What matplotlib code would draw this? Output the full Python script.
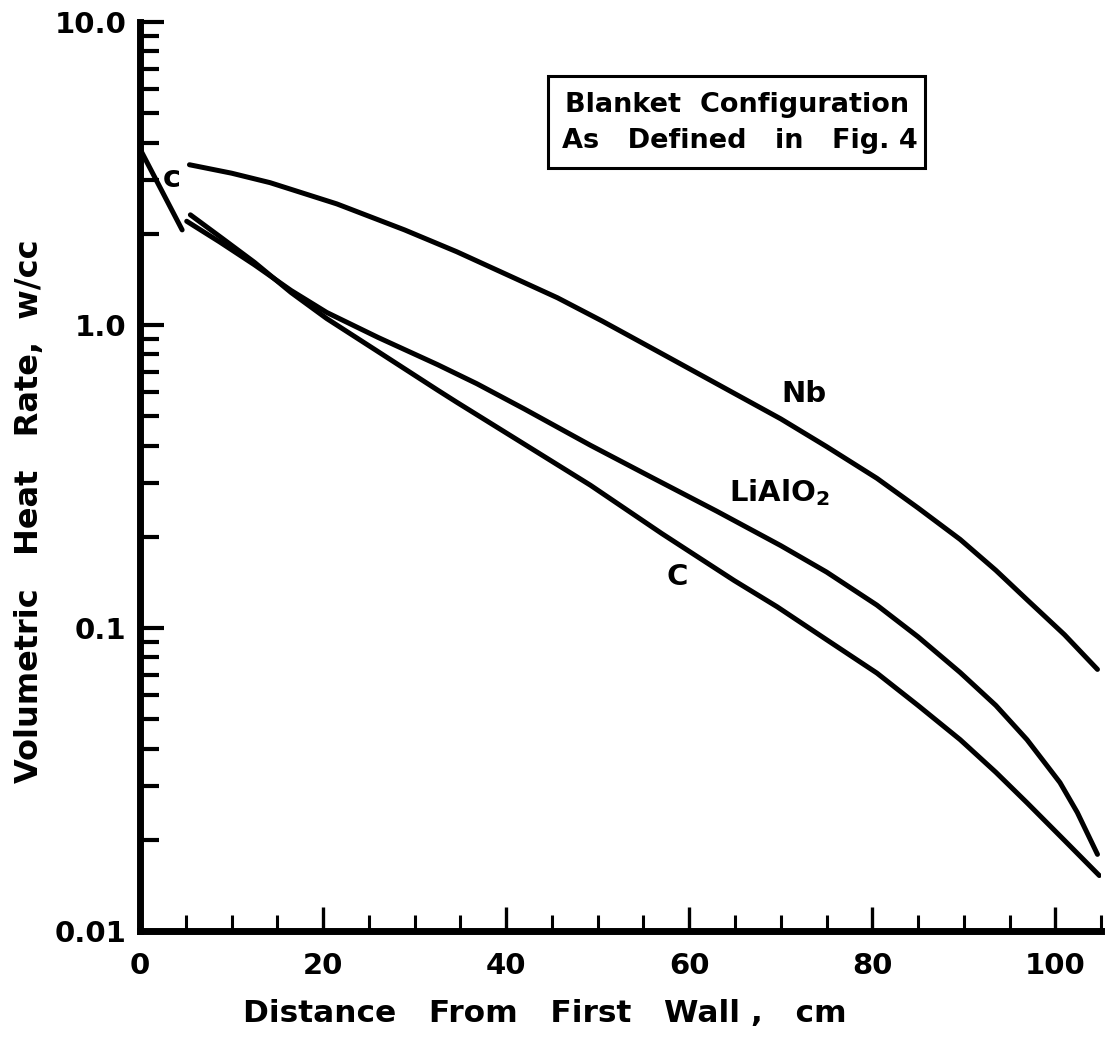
import matplotlib
matplotlib.use("Agg")
import matplotlib.pyplot as plt
from matplotlib.ticker import FixedLocator, MultipleLocator, LogLocator, NullFormatter
from matplotlib.patches import Rectangle

plt.rcParams['font.family'] = ['DejaVu Sans']
plt.rcParams['font.weight'] = 'bold'
plt.rcParams['mathtext.fontset'] = 'dejavusans'

# Volumetric heat rate (w/cc) versus distance from the first wall (cm)
c_wall_x = [0.0, 4.6]
c_wall_q = [3.81, 2.06]

c_x = [5.5, 9.0, 12.5, 16.5, 20.4, 26.0, 32.5, 34.6, 42.0, 49.2, 57.0, 64.9,
       69.6, 75.0, 80.5, 85.0, 89.6, 93.5, 96.9, 101.0, 104.8]
c_q = [2.31, 1.93, 1.61, 1.28, 1.05, 0.817, 0.61, 0.556, 0.404, 0.296, 0.205,
       0.1435, 0.1175, 0.0915, 0.0710, 0.0555, 0.0428, 0.0334, 0.0265, 0.0199, 0.01524]

lialo2_x = [5.1, 8.7, 12.5, 16.5, 20.4, 26.0, 32.5, 36.8, 42.0, 49.2, 56.0, 63.0,
            70.0, 75.0, 80.5, 85.0, 89.6, 93.5, 96.9, 100.5, 102.4, 104.6]
lialo2_q = [2.20, 1.88, 1.58, 1.30, 1.10, 0.91, 0.74, 0.64, 0.528, 0.401, 0.313,
            0.243, 0.187, 0.153, 0.119, 0.0935, 0.0713, 0.0555, 0.0428, 0.0309, 0.0246, 0.0179]

nb_x = [5.4, 10.0, 14.2, 21.5, 28.9, 34.6, 40.0, 45.6, 50.5, 56.5, 63.0, 70.0,
        75.0, 80.5, 85.0, 89.6, 93.5, 96.9, 101.0, 104.6]
nb_q = [3.38, 3.17, 2.95, 2.51, 2.06, 1.745, 1.47, 1.23, 1.03, 0.82, 0.64, 0.49,
        0.397, 0.312, 0.249, 0.196, 0.155, 0.124, 0.095, 0.073]

x_ticks = [0, 20, 40, 60, 80, 100]
x_tick_labels = ['0', '20', '40', '60', '80', '100']
y_ticks = [0.01, 0.1, 1.0, 10.0]
y_tick_labels = ['0.01', '0.1', '1.0', '10.0']

W, H = 1107, 1038
fig = plt.figure(figsize=(W / 100, H / 100), dpi=100)
ax = fig.add_axes([0.1265, 0.1031, 0.8682, 0.8757])
ax.set_yscale('log')
ax.set_xlim(0, 105)
ax.set_ylim(0.01, 10)

line_kw = dict(color='black', lw=3.6, solid_capstyle='round', solid_joinstyle='round')
ax.plot(c_wall_x, c_wall_q, **line_kw)
ax.plot(c_x, c_q, **line_kw)
ax.plot(lialo2_x, lialo2_q, **line_kw)
ax.plot(nb_x, nb_q, **line_kw)

for side in ('top', 'right'):
    ax.spines[side].set_visible(False)
for side in ('left', 'bottom'):
    ax.spines[side].set_linewidth(5)
    ax.spines[side].set_capstyle('projecting')

ax.xaxis.set_major_locator(FixedLocator(x_ticks))
ax.xaxis.set_minor_locator(MultipleLocator(5))
ax.set_xticklabels(x_tick_labels)
ax.yaxis.set_major_locator(FixedLocator(y_ticks))
ax.yaxis.set_minor_locator(LogLocator(base=10, subs=range(2, 10)))
ax.yaxis.set_minor_formatter(NullFormatter())
ax.set_yticklabels(y_tick_labels)

ax.tick_params(axis='both', which='major', direction='in', length=17, labelsize=21)
ax.tick_params(axis='x', which='major', width=2.4, pad=15)
ax.tick_params(axis='x', which='minor', direction='in', length=11.5, width=2.2)
ax.tick_params(axis='y', which='major', width=3.0, pad=10)
ax.tick_params(axis='y', which='minor', direction='in', length=13.5, width=3.0)
for lab in ax.get_xticklabels() + ax.get_yticklabels():
    lab.set_fontweight('bold')

# curve labels
ax.text(72.5, 0.59, 'Nb', fontsize=21, fontweight='bold', ha='center', va='center')
ax.text(69.8, 0.28, r'LiAlO$_{\mathbf{2}}$', fontsize=21, fontweight='bold',
        ha='center', va='center')
ax.text(58.7, 0.147, 'C', fontsize=21, fontweight='bold', ha='center', va='center')
ax.text(3.5, 3.05, 'c', fontsize=22, fontweight='bold', ha='center', va='center')

# axis titles
fig.text(545 / W, 1 - 1014 / H, 'Distance   From   First   Wall ,   cm',
         fontsize=22.5, fontweight='bold', ha='center', va='center')
fig.text(30 / W, 1 - 511 / H, 'Volumetric   Heat   Rate,  w/cc',
         fontsize=23, fontweight='bold', ha='center', va='center', rotation=90)

# boxed note
fig.patches.append(Rectangle((548 / W, 1 - 168 / H), (925 - 548) / W,
                             (168 - 76) / H, transform=fig.transFigure,
                             fill=False, edgecolor='black', lw=2.2))
fig.text(737 / W, 1 - 105 / H, 'Blanket  Configuration', fontsize=19.5,
         fontweight='bold', ha='center', va='center')
fig.text(740 / W, 1 - 141 / H, 'As   Defined   in   Fig. 4', fontsize=19.5,
         fontweight='bold', ha='center', va='center')

fig.savefig('out.png', dpi=100, facecolor='white')
